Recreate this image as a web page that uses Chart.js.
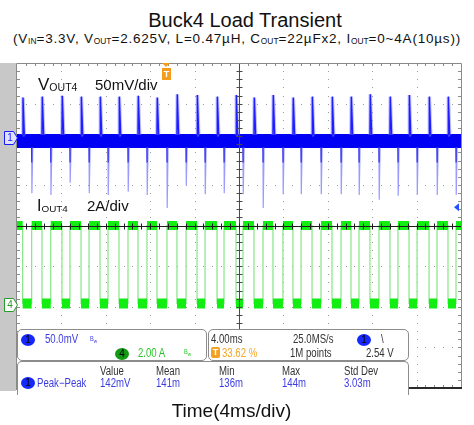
<!DOCTYPE html>
<html lang="en">
<head>
<meta charset="UTF-8">
<title>Buck4 Load Transient</title>
<script src="https://cdn.jsdelivr.net/npm/chart.js"></script>
<style>
    * { margin: 0; padding: 0; box-sizing: border-box; }
    body {
        width: 474px; height: 425px; background: #fff;
        position: relative; overflow: hidden;
        font-family: 'Liberation Sans', Arial, sans-serif;
    }
    .abs { position: absolute; white-space: nowrap; line-height: 1; }
    .sb { font-size: 62%; position: relative; top: 1px; letter-spacing: 0; }
    #title { left: 0; width: 490px; top: 10px; font-size: 20px; text-align: center; color: #111; }
    #sub { left: 0; width: 474px; top: 32px; font-size: 13.5px; letter-spacing: 0.8px; text-align: center; color: #111; }
    #xlabel { left: 0; width: 463px; top: 401px; font-size: 19px; text-align: center; color: #111; }
    #scope { position: absolute; left: 0; top: 55px; }
    .lbl { color: #111; }
    .panel { position: absolute; background: #fff; border: 1px solid #8c8c8c; border-radius: 5px; }
    .nar { font-size: 12px; color: #333; transform: scaleX(0.8); transform-origin: 0 0; }
    .blu { color: #3c3ce0; }
    .grn { color: #2cc42c; }
    .org { color: #f5a623; }
    .dot { position: absolute; width: 14px; height: 12px; border-radius: 50%; text-align: center;
           font-size: 10px; line-height: 12px; color: #000; }
    .tiny { font-size: 7px; }
</style>
</head>
<body>
<div class="abs" id="title">Buck4 Load Transient</div>
<div class="abs" id="sub">(V<span class="sb">IN</span>=3.3V, V<span class="sb">OUT</span>=2.625V, L=0.47µH, C<span class="sb">OUT</span>=22µFx2, I<span class="sb">OUT</span>=0~4A(10µs))</div>

<canvas id="scope" width="474" height="340"></canvas>

<div class="abs lbl" style="left:38px;top:76px;font-size:17px">V<span class="sb">OUT4</span></div>
<div class="abs lbl" style="left:95px;top:77px;font-size:15px">50mV/div</div>
<div class="abs lbl" style="left:37px;top:198px;font-size:16px">I<span class="sb">OUT4</span></div>
<div class="abs lbl" style="left:87px;top:198px;font-size:15px">2A/div</div>

<div class="panel" style="left:17px;top:329px;width:190px;height:32px"></div>
<div class="panel" style="left:208px;top:329px;width:201px;height:32px"></div>
<div class="panel" style="left:17px;top:361px;width:392px;height:34px;border-bottom:none;border-radius:5px 5px 0 0"></div>

<div class="dot" style="left:21px;top:334px;background:#1428ff">1</div>
<div class="abs nar blu" style="left:45px;top:333px">50.0mV</div>
<div class="abs nar blu tiny" style="left:90px;top:335px">B<sub>w</sub></div>
<div class="dot" style="left:115px;top:348px;background:#129a12">4</div>
<div class="abs nar grn" style="left:138px;top:347px">2.00 A</div>
<div class="abs nar grn tiny" style="left:184px;top:348px">B<sub>w</sub></div>

<div class="abs nar" style="left:211px;top:333px">4.00ms</div>
<div class="abs nar" style="left:293px;top:333px">25.0MS/s</div>
<div class="dot" style="left:357px;top:334px;background:#1428ff">1</div>
<div class="abs nar" style="left:381px;top:333px">\</div>
<div class="abs" style="left:211px;top:347px;width:9px;height:11px;background:#f5a020;border-radius:2px;color:#fff;font-size:9px;text-align:center;line-height:11px;font-weight:bold">T</div>
<div class="abs nar org" style="left:222px;top:347px">33.62 %</div>
<div class="abs nar" style="left:290px;top:347px">1M points</div>
<div class="abs nar" style="left:366px;top:347px">2.54 V</div>

<div class="abs nar" style="left:100px;top:365px">Value</div>
<div class="abs nar" style="left:156px;top:365px">Mean</div>
<div class="abs nar" style="left:219px;top:365px">Min</div>
<div class="abs nar" style="left:282px;top:365px">Max</div>
<div class="abs nar" style="left:344px;top:365px">Std Dev</div>
<div class="dot" style="left:21px;top:377px;background:#1428ff">1</div>
<div class="abs nar blu" style="left:37px;top:377px">Peak−Peak</div>
<div class="abs nar blu" style="left:100px;top:377px">142mV</div>
<div class="abs nar blu" style="left:156px;top:377px">141m</div>
<div class="abs nar blu" style="left:219px;top:377px">136m</div>
<div class="abs nar blu" style="left:282px;top:377px">144m</div>
<div class="abs nar blu" style="left:344px;top:377px">3.03m</div>

<div class="abs" id="xlabel">Time(4ms/div)</div>

<script>
    // time of each load release (4A -> 0A) and load step (0A -> 4A), ms
    const releaseMs = [0.51, 2.25, 4.05, 5.77, 7.48, 9.19, 10.90, 12.61, 14.41, 16.22, 18.02, 19.73,
                       21.35, 23.06, 24.86, 26.58, 28.38, 30.09, 31.80, 33.60, 35.32, 37.12, 38.83];
    const stepMs = [1.32, 3.04, 4.77, 6.49, 8.20, 10.00, 11.71, 13.51, 15.23, 16.94, 18.65, 20.36,
                    22.16, 23.96, 25.59, 27.39, 29.19, 30.81, 32.61, 34.32, 36.04, 37.84, 39.55];
    // VOUT deviation from 2.625 V, mV
    const overshootMv = [50, 51, 52, 51, 51, 51, 52, 50, 54, 53, 51, 53, 50, 53, 50, 51, 51, 51, 54, 51, 53, 51, 51];
    const undershootMv = [-68, -70, -55, -68, -70, -66, -70, -86, -58, -69, -68, -69,
                          -86, -69, -69, -69, -69, -70, -76, -71, -70, -70, -70];
    const voutBandMv = [-3.6, 4, -12];   // band centre, top, bottom
    const ioutA = [0.06, 3.9];           // low, high
    const triggerPosMs = 13.45;
    const triggerLevelMv = -85;

    // build traces
    const upPts = [], dnPts = [], dnDark = [];
    releaseMs.forEach((t, i) => {
        upPts.push({x: t, y: voutBandMv[1]}, {x: t + 0.03, y: overshootMv[i]},
                   {x: t + 0.15, y: voutBandMv[1]}, {x: t + 0.15, y: null});
    });
    stepMs.forEach((t, i) => {
        dnPts.push({x: t, y: voutBandMv[2]}, {x: t + 0.02, y: undershootMv[i]},
                   {x: t + 0.1, y: voutBandMv[2]}, {x: t + 0.1, y: null});
        dnDark.push({x: t, y: voutBandMv[2]}, {x: t + 0.01, y: -30}, {x: t + 0.01, y: null});
    });

    const hiPts = [], loPts = [], edgePts = [];
    let start = 0;
    edgePts.push({x: 0, y: ioutA[1]});
    releaseMs.forEach((r, i) => {
        const s = stepMs[i];
        hiPts.push({x: start, y: ioutA[1]}, {x: r, y: ioutA[1]}, {x: r, y: null});
        loPts.push({x: r, y: ioutA[0]}, {x: s, y: ioutA[0]}, {x: s, y: null});
        edgePts.push({x: r, y: ioutA[1]}, {x: r, y: ioutA[0]}, {x: s, y: ioutA[0]}, {x: s, y: ioutA[1]});
        start = s;
    });
    hiPts.push({x: start, y: ioutA[1]}, {x: 40, y: ioutA[1]});
    edgePts.push({x: 40, y: ioutA[1]});

    // scope graticule, markers
    const scopeGrid = {
        id: 'scopeGrid',
        beforeDraw(chart) {
            const {ctx, chartArea: a} = chart;
            ctx.save();
            ctx.fillStyle = '#c8c8c8';
            ctx.fillRect(0, a.top, a.left - 1, a.bottom - a.top + 3);
            ctx.restore();
        },
        beforeDatasetsDraw(chart) {
            const {ctx, chartArea: a, scales} = chart;
            const w = a.right - a.left, h = a.bottom - a.top;
            ctx.save();
            ctx.fillStyle = '#9a9a9a';
            for (let k = 1; k < 10; k++) {
                if (k === 5) continue;
                const px = Math.round(scales.x.getPixelForValue(k * 4));
                for (let j = 1; j < 40; j++) ctx.fillRect(px, Math.round(a.top + j * h / 40), 1, 1);
            }
            for (let k = 1; k < 8; k++) {
                if (k === 4) continue;
                const py = Math.round(a.top + k * h / 8);
                for (let j = 1; j < 50; j++) ctx.fillRect(Math.round(a.left + j * w / 50), py, 1, 1);
            }
            // border ticks
            ctx.fillStyle = '#8c8c8c';
            for (let j = 1; j < 50; j++) {
                const px = Math.round(a.left + j * w / 50);
                ctx.fillRect(px, a.top, 1, 3);
                ctx.fillRect(px, a.bottom - 3, 1, 3);
            }
            for (let j = 1; j < 40; j++) {
                const py = Math.round(a.top + j * h / 40);
                ctx.fillRect(a.left, py, 3, 1);
                ctx.fillRect(a.right - 3, py, 3, 1);
            }
            ctx.restore();
        },
        afterDatasetsDraw(chart) {
            const {ctx, chartArea: a, scales} = chart;
            const w = a.right - a.left, h = a.bottom - a.top;
            const cx = Math.round(scales.x.getPixelForValue(20)) + 0.5;
            const cy = Math.round(a.top + h / 2) + 0.5;
            ctx.save();
            ctx.lineWidth = 1;
            ctx.strokeStyle = '#4a4a4a';
            ctx.beginPath();
            ctx.moveTo(cx, a.top); ctx.lineTo(cx, a.bottom);
            for (let j = 1; j < 40; j++) {
                const py = Math.round(a.top + j * h / 40) + 0.5;
                ctx.moveTo(cx - 3, py); ctx.lineTo(cx + 3, py);
            }
            ctx.stroke();
            ctx.strokeStyle = '#1c1c1c';
            ctx.beginPath();
            ctx.moveTo(a.left, cy); ctx.lineTo(a.right, cy);
            for (let j = 1; j < 50; j++) {
                const px = Math.round(a.left + j * w / 50) + 0.5;
                ctx.moveTo(px, cy - 3); ctx.lineTo(px, cy + 3);
            }
            ctx.stroke();
            // frame
            ctx.strokeStyle = '#8a8a8a';
            ctx.beginPath();
            ctx.moveTo(a.left - 0.5, a.bottom + 2); ctx.lineTo(a.left - 0.5, a.top + 0.5);
            ctx.lineTo(a.right + 0.5, a.top + 0.5); ctx.lineTo(a.right + 0.5, a.bottom);
            ctx.stroke();
            ctx.fillStyle = '#2a2a2a';
            ctx.fillRect(a.left, a.bottom - 1, w + 1, 2);

            // channel markers
            const marker = (y, stroke, fill, txt) => {
                ctx.beginPath();
                ctx.moveTo(4.5, y - 6.5); ctx.lineTo(13.5, y - 6.5); ctx.lineTo(17.5, y);
                ctx.lineTo(13.5, y + 6.5); ctx.lineTo(4.5, y + 6.5); ctx.closePath();
                ctx.fillStyle = fill; ctx.fill();
                ctx.strokeStyle = stroke; ctx.stroke();
                ctx.fillStyle = stroke;
                ctx.font = '10px "Liberation Sans", sans-serif';
                ctx.textAlign = 'center'; ctx.textBaseline = 'middle';
                ctx.fillText(txt, 10, y + 0.5);
            };
            marker(Math.round(scales.yV.getPixelForValue(0)), '#1a1aff', '#dfe3ff', '1');
            marker(Math.round(scales.yI.getPixelForValue(0)), '#2a9a2a', '#ffffff', '4');

            // trigger position
            const tx = Math.round(scales.x.getPixelForValue(triggerPosMs));
            ctx.fillStyle = '#f39c1e';
            ctx.beginPath();
            ctx.moveTo(tx - 4, a.top); ctx.lineTo(tx + 4, a.top); ctx.lineTo(tx, a.top + 4); ctx.closePath();
            ctx.fill();
            ctx.fillRect(tx - 4, a.top + 5, 9, 12);
            ctx.fillStyle = '#fff';
            ctx.font = 'bold 9px "Liberation Sans", sans-serif';
            ctx.textAlign = 'center'; ctx.textBaseline = 'middle';
            ctx.fillText('T', tx + 0.5, a.top + 11.5);

            // trigger level
            const ty = scales.yV.getPixelForValue(triggerLevelMv);
            ctx.fillStyle = '#2050ff';
            ctx.beginPath();
            ctx.moveTo(a.right - 7, ty); ctx.lineTo(a.right - 2, ty - 4); ctx.lineTo(a.right - 2, ty + 4); ctx.closePath();
            ctx.fill();
            ctx.restore();
        }
    };

    const line = (data, yAxisID, color, width) => ({
        data, yAxisID, xAxisID: 'x', borderColor: color, borderWidth: width,
        pointRadius: 0, tension: 0, fill: false, spanGaps: false, borderCapStyle: 'butt'
    });

    new Chart(document.getElementById('scope'), {
        type: 'line',
        data: {
            datasets: [
                line(dnDark, 'yV', '#2b2bf0', 1.2),
                line(upPts, 'yV', '#1e1eff', 1.4),
                line(upPts, 'yV', 'rgba(140,140,255,0.55)', 3.5),
                line(dnPts, 'yV', '#9a9aff', 1.2),
                line([{x: 0, y: voutBandMv[0]}, {x: 40, y: voutBandMv[0]}], 'yV', '#0000f4', 14),
                line(hiPts, 'yI', '#12ee12', 9),
                line(loPts, 'yI', '#12ee12', 10),
                line(edgePts, 'yI', '#86e686', 1.2)
            ]
        },
        options: {
            responsive: false,
            animation: false,
            layout: { padding: { left: 17, top: 8, right: 13, bottom: 7 } },
            plugins: { legend: { display: false }, tooltip: { enabled: false }, title: { display: false } },
            scales: {
                x: { type: 'linear', min: 0, max: 40, display: false },
                yV: { type: 'linear', min: -307.6, max: 92.4, display: false },
                yI: { type: 'linear', min: -4.1, max: 11.9, display: false }
            }
        },
        plugins: [scopeGrid]
    });
</script>
</body>
</html>
